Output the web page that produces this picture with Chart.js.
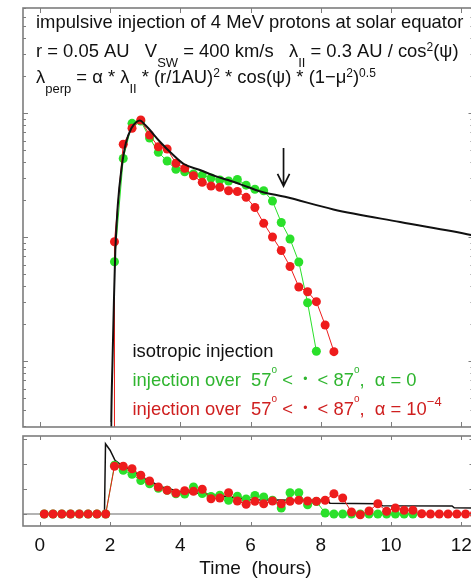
<!DOCTYPE html>
<html>
<head>
<meta charset="utf-8">
<script src="https://cdn.jsdelivr.net/npm/chart.js@4.4.1/dist/chart.umd.min.js"></script>
<style>
  html, body { margin: 0; padding: 0; background: #fff; overflow: hidden; }
  #wrap { position: relative; width: 471px; height: 580px; overflow: hidden; background: #fff; }
  #fluxCanvas { position: absolute; left: 0; top: 0; width: 490px; height: 432px; }
  #anisCanvas { position: absolute; left: 0; top: 430px; width: 490px; height: 150px; }
</style>
</head>
<body>
<div id="wrap">
  <canvas id="fluxCanvas" width="490" height="432"></canvas>
  <canvas id="anisCanvas" width="490" height="150"></canvas>
</div>
<script>
const FONT = '"Liberation Sans", Arial, Helvetica, sans-serif';
const INK = '#111111';
const FRAME = '#7d7d7d';
const RED = '#ee1c1c';
const GREEN = '#2ae02a';
const RED_TEXT = '#cf1f1f';
const GREEN_TEXT = '#2fb52f';

// ---- shared time axis (hours) ----
const timeRange = [-0.48, 12.35];
const xTickValues = [0, 2, 4, 6, 8, 10, 12];
const xTickLabels = ['0', '2', '4', '6', '8', '10', '12'];
const xAxisTitle = 'Time  (hours)';

// ---- upper panel: intensity (logarithmic, arbitrary units) ----
const fluxRange = [0.002937, 7.03];
const fluxDecades = [0.001, 0.01, 0.1, 1];
const fluxMinorSteps = [2, 3, 4, 5, 6, 7, 8, 9];
const onsetFloor = 1e-5;

// isotropic injection
const isoTime = [2.00, 2.03, 2.07, 2.11, 2.15, 2.22, 2.32, 2.45, 2.61, 2.75, 2.85, 3.00, 3.09,
                 3.42, 3.80, 4.10, 4.56, 5.00, 5.36, 5.70, 6.31, 6.98, 8.36, 10.26, 12.28, 12.40];
const isoFlux = [0.0001, 0.0025, 0.0102, 0.031, 0.0785, 0.181, 0.347, 0.573, 0.757, 0.846, 0.870, 0.800, 0.753,
                 0.587, 0.458, 0.388, 0.347, 0.310, 0.288, 0.267, 0.232, 0.211, 0.167, 0.132, 0.104, 0.102];

// injection over 57-87 deg, alpha = 0
const greenTime = [2.125, 2.375, 2.625, 2.875, 3.125, 3.375, 3.625, 3.875, 4.125, 4.375, 4.625, 4.875,
                   5.125, 5.375, 5.625, 5.875, 6.125, 6.375, 6.625, 6.875, 7.125, 7.375, 7.625, 7.875];
const greenFlux = [0.0632, 0.430, 0.826, 0.862, 0.629, 0.482, 0.410, 0.352, 0.336, 0.322, 0.316, 0.299,
                   0.288, 0.283, 0.291, 0.262, 0.243, 0.236, 0.195, 0.131, 0.0964, 0.0629, 0.0295, 0.0120];

// injection over 57-87 deg, alpha = 1e-4
const redTime = [2.125, 2.375, 2.625, 2.875, 3.125, 3.375, 3.625, 3.875, 4.125, 4.375, 4.625, 4.875, 5.125,
                 5.375, 5.625, 5.875, 6.125, 6.375, 6.625, 6.875, 7.125, 7.375, 7.625, 7.875, 8.125, 8.375];
const redFlux = [0.0916, 0.560, 0.753, 0.878, 0.665, 0.535, 0.513, 0.393, 0.358, 0.312, 0.276, 0.258, 0.252,
                 0.236, 0.233, 0.209, 0.173, 0.129, 0.100, 0.0778, 0.0578, 0.0395, 0.0362, 0.0301, 0.0195, 0.0119];

// arrow marker
const arrowTime = 6.94;
const arrowTail = 0.522;
const arrowHead = 0.258;

// ---- lower panel ----
const anisRange = [-0.48, 3.12];
const anisTicks = [0, 1, 2, 3];

const isoAnisTime = [1.84, 1.87, 2.00, 2.14, 2.33, 2.61, 2.99, 3.47, 4.04, 4.70, 5.36, 6.03, 7.30, 8.20,
                     8.26, 9.68, 9.76, 11.74, 11.80, 12.40];
const isoAnis = [0, 2.81, 2.55, 2.15, 1.95, 1.75, 1.41, 1.08, 0.88, 0.81, 0.68, 0.57, 0.55, 0.55,
                 0.43, 0.41, 0.33, 0.32, 0.25, 0.24];

const redAnisTime = [0.125, 0.375, 0.625, 0.875, 1.125, 1.375, 1.625, 1.875,
                     2.125, 2.375, 2.625, 2.875, 3.125, 3.375, 3.625, 3.875,
                     4.125, 4.375, 4.625, 4.875, 5.125, 5.375, 5.625, 5.875,
                     6.125, 6.375, 6.625, 6.875, 7.125, 7.375, 7.625, 7.875,
                     8.125, 8.375, 8.625, 8.875, 9.125, 9.375, 9.625, 9.875,
                     10.125, 10.375, 10.625, 10.875, 11.125, 11.375, 11.625, 11.875, 12.125, 12.375];
const redAnis = [0, 0, 0, 0, 0, 0, 0, 0,
                 1.91, 1.91, 1.81, 1.55, 1.32, 1.08, 0.95, 0.84,
                 0.93, 0.91, 0.99, 0.61, 0.64, 0.85, 0.52, 0.39,
                 0.51, 0.41, 0.52, 0.41, 0.51, 0.55, 0.52, 0.51,
                 0.55, 0.81, 0.64, 0.08, -0.03, 0.12, 0.41, 0.11,
                 0.24, 0.15, 0.15, 0.01, 0, 0, 0, 0, 0, 0];

const greenAnisTime = [0.125, 0.375, 0.625, 0.875, 1.125, 1.375, 1.625, 1.875,
                       2.125, 2.375, 2.625, 2.875, 3.125, 3.375, 3.625, 3.875,
                       4.125, 4.375, 4.625, 4.875, 5.125, 5.375, 5.625, 5.875,
                       6.125, 6.375, 6.625, 6.875, 7.125, 7.375, 7.625, 7.875,
                       8.125, 8.375, 8.625, 8.875, 9.125, 9.375, 9.625, 9.875,
                       10.125, 10.375, 10.625];
const greenAnis = [0, 0, 0, 0, 0, 0, 0, 0,
                   1.95, 1.75, 1.59, 1.34, 1.21, 1.03, 0.95, 0.81,
                   0.80, 1.08, 0.82, 0.70, 0.75, 0.55, 0.71, 0.60,
                   0.74, 0.68, 0.55, 0.24, 0.85, 0.85, 0.37, 0.50,
                   0.04, 0, 0, 0, 0, 0, 0, 0,
                   0, 0, 0];

// ---- text blocks: [text, style] ----
const headerLines = [
  [['impulsive injection of 4 MeV protons at solar equator', '']],
  [['r = 0.05 AU   V', ''], ['SW', 'sub'], [' = 400 km/s   \u03bb', ''], ['II', 'sub'],
   [' = 0.3 AU / cos', ''], ['2', 'sup'], ['(\u03c8)', '']],
  [['\u03bb', ''], ['perp', 'sub'], [' = \u03b1 * \u03bb', ''], ['II', 'sub'], [' * (r/1AU)', ''], ['2', 'sup'],
   [' * cos(\u03c8) * (1\u2212\u03bc', ''], ['2', 'sup'], [')', ''], ['0.5', 'sup']]
];
const legendLines = [
  { color: INK, segs: [['isotropic injection', '']] },
  { color: GREEN_TEXT, segs: [['injection over  57', ''], ['o', 'deg'], [' <  ', ''], ['\u2022', 'dot'],
                              ['  < 87', ''], ['o', 'deg'], [',  \u03b1 = 0', '']] },
  { color: RED_TEXT, segs: [['injection over  57', ''], ['o', 'deg'], [' <  ', ''], ['\u2022', 'dot'],
                            ['  < 87', ''], ['o', 'deg'], [',  \u03b1 = 10', ''], ['\u22124', 'exp']] }
];

const STYLE = {
  '':    { size: 18.4, dy: 0 },
  sub:   { size: 13,   dy: 10 },
  sup:   { size: 12,   dy: -6 },
  exp:   { size: 13,   dy: -9 },
  deg:   { size: 10,   dy: -13 },
  dot:   { size: 12,   dy: -3 }
};

function drawRich(ctx, x, y, segs, color) {
  let cx = x;
  ctx.fillStyle = color;
  for (const [txt, kind] of segs) {
    const st = STYLE[kind];
    ctx.font = st.size + 'px ' + FONT;
    ctx.fillText(txt, cx, y + st.dy);
    cx += ctx.measureText(txt).width;
  }
}

function pts(xs, ys) { return xs.map((t, i) => ({ x: t, y: ys[i] })); }

// log tick marks for the upper panel
const fluxTicks = [];
fluxDecades.forEach(d => {
  fluxTicks.push({ v: d, major: true });
  fluxMinorSteps.forEach(m => fluxTicks.push({ v: d * m, major: false }));
});
const fluxTicksInRange = fluxTicks.filter(t => t.v >= fluxRange[0] && t.v <= fluxRange[1]);

// frame with inward tick marks on all four sides
const frameTicks = {
  id: 'frameTicks',
  beforeDatasetsDraw(chart, args, o) {
    if (o.zeroLine === undefined || o.zeroLine === null) return;
    const { ctx, chartArea: a, scales: { y } } = chart;
    const py = y.getPixelForValue(o.zeroLine);
    ctx.save();
    ctx.strokeStyle = '#9a9a9a';
    ctx.lineWidth = 1.5;
    ctx.beginPath(); ctx.moveTo(a.left, py); ctx.lineTo(a.right, py); ctx.stroke();
    ctx.restore();
  },
  afterDraw(chart, args, o) {
    const { ctx, chartArea: a, scales: { x, y } } = chart;
    ctx.save();
    ctx.strokeStyle = FRAME;
    ctx.lineWidth = 1;
    ctx.beginPath();
    for (const v of xTickValues) {
      const px = Math.round(x.getPixelForValue(v)) + 0.5;
      ctx.moveTo(px, a.bottom); ctx.lineTo(px, a.bottom - o.len);
      ctx.moveTo(px, a.top); ctx.lineTo(px, a.top + o.len);
    }
    for (const t of o.yTicks) {
      const py = Math.round(y.getPixelForValue(t.v)) + 0.5;
      const l = t.major ? o.len : o.minorLen;
      ctx.moveTo(a.left, py); ctx.lineTo(a.left + l, py);
      ctx.moveTo(a.right, py); ctx.lineTo(a.right - l, py);
    }
    ctx.stroke();
    ctx.lineWidth = 1.6;
    ctx.strokeRect(a.left, a.top, a.right - a.left, a.bottom - a.top);
    ctx.restore();
  }
};

// header, legend text and arrow on the upper panel
const fluxNotes = {
  id: 'fluxNotes',
  afterDraw(chart) {
    const { ctx, scales: { x, y } } = chart;
    ctx.save();
    ctx.textAlign = 'left';
    ctx.textBaseline = 'alphabetic';
    const headerBase = [28.3, 57.3, 83.3];
    headerLines.forEach((segs, i) => drawRich(ctx, 36, headerBase[i], segs, INK));
    const legendBase = [356.7, 386, 415];
    legendLines.forEach((ln, i) => drawRich(ctx, 132.5, legendBase[i], ln.segs, ln.color));

    const ax = x.getPixelForValue(arrowTime);
    const y1 = y.getPixelForValue(arrowTail);
    const y2 = y.getPixelForValue(arrowHead);
    ctx.strokeStyle = INK;
    ctx.lineWidth = 1.7;
    ctx.beginPath();
    ctx.moveTo(ax, y1); ctx.lineTo(ax, y2);
    ctx.moveTo(ax - 6, y2 - 12); ctx.lineTo(ax, y2); ctx.lineTo(ax + 6, y2 - 12);
    ctx.stroke();
    ctx.restore();
  }
};

// axis title of the lower panel
const anisNotes = {
  id: 'anisNotes',
  afterDraw(chart) {
    const ctx = chart.ctx;
    ctx.save();
    ctx.fillStyle = INK;
    ctx.font = '19px ' + FONT;
    ctx.textAlign = 'center';
    ctx.textBaseline = 'alphabetic';
    ctx.fillText(xAxisTitle, 255.5, 144);
    ctx.restore();
  }
};

Chart.defaults.font.family = FONT;

const common = {
  responsive: false,
  devicePixelRatio: 1,
  animation: false,
  events: [],
  plugins: { legend: { display: false }, tooltip: { enabled: false } }
};

new Chart(document.getElementById('fluxCanvas'), {
  type: 'line',
  data: {
    datasets: [
      {
        data: pts(isoTime, isoFlux),
        borderColor: INK, borderWidth: 2, pointRadius: 0,
        cubicInterpolationMode: 'monotone'
      },
      {
        data: [{ x: redTime[0], y: onsetFloor }].concat(pts(redTime, redFlux)),
        borderColor: RED, borderWidth: 1,
        pointRadius: c => (c.raw && c.raw.y > onsetFloor ? 4.5 : 0),
        pointBackgroundColor: RED, pointBorderWidth: 0
      },
      {
        data: [{ x: greenTime[0], y: onsetFloor }].concat(pts(greenTime, greenFlux)),
        borderColor: GREEN, borderWidth: 1,
        pointRadius: c => (c.raw && c.raw.y > onsetFloor ? 4.5 : 0),
        pointBackgroundColor: GREEN, pointBorderWidth: 0
      }
    ]
  },
  options: Object.assign({}, common, {
    layout: { padding: { left: 23, top: 8, right: 16.5, bottom: 5 } },
    scales: {
      x: { type: 'linear', min: timeRange[0], max: timeRange[1], display: false },
      y: { type: 'logarithmic', min: fluxRange[0], max: fluxRange[1], display: false }
    },
    plugins: Object.assign({}, common.plugins, {
      frameTicks: { len: 5, minorLen: 3, yTicks: fluxTicksInRange }
    })
  }),
  plugins: [frameTicks, fluxNotes]
});

new Chart(document.getElementById('anisCanvas'), {
  type: 'line',
  data: {
    datasets: [
      {
        data: pts(redAnisTime, redAnis),
        borderColor: RED, borderWidth: 1,
        pointRadius: 4.5, pointBackgroundColor: RED, pointBorderWidth: 0
      },
      {
        data: pts(greenAnisTime, greenAnis),
        borderColor: GREEN, borderWidth: 1,
        pointRadius: 4.5, pointBackgroundColor: GREEN, pointBorderWidth: 0
      },
      {
        data: pts(isoAnisTime, isoAnis),
        borderColor: INK, borderWidth: 1.5, pointRadius: 0
      }
    ]
  },
  options: Object.assign({}, common, {
    layout: { padding: { left: 23, top: 6, right: 16.5, bottom: 0 } },
    scales: {
      x: {
        type: 'linear', min: timeRange[0], max: timeRange[1],
        afterBuildTicks: s => { s.ticks = xTickValues.map(v => ({ value: v })); },
        afterFit: s => { s.height = 54; },
        grid: { display: false, drawTicks: false },
        border: { display: false },
        ticks: {
          color: INK, padding: 8, maxRotation: 0, autoSkip: false,
          font: { size: 19, family: FONT },
          callback: (v, i) => xTickLabels[i]
        }
      },
      y: { type: 'linear', min: anisRange[0], max: anisRange[1], display: false }
    },
    plugins: Object.assign({}, common.plugins, {
      frameTicks: { len: 4, minorLen: 4, zeroLine: 0, yTicks: anisTicks.map(v => ({ v: v, major: true })) }
    })
  }),
  plugins: [frameTicks, anisNotes]
});
</script>
</body>
</html>
